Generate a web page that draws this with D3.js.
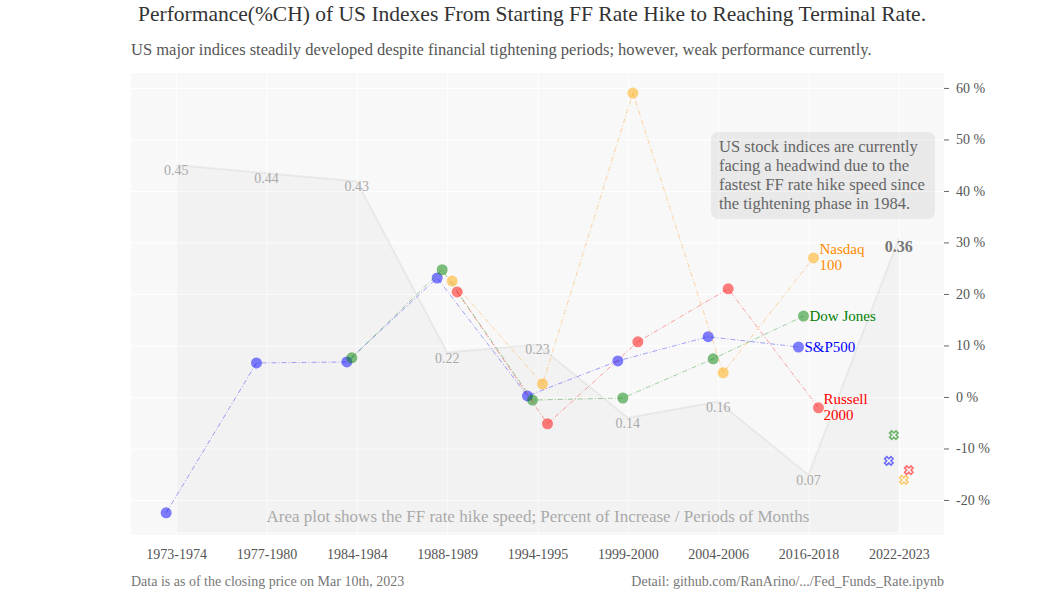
<!DOCTYPE html>
<html lang="en">
<head>
<meta charset="UTF-8">
<title>FF Rate Hike Performance</title>
<script src="https://cdn.jsdelivr.net/npm/d3@7"></script>
<style>
  body{margin:0;background:#fff;font-family:"Liberation Serif","DejaVu Serif",serif}
  .grid line{stroke:#fff;stroke-width:1}
  .grid path{display:none}
</style>
</head>
<body>
<svg width="1050" height="600"></svg>
<script>
var periods = ['1973-1974','1977-1980','1984-1984','1988-1989','1994-1995','1999-2000','2004-2006','2016-2018','2022-2023']
var hikeSpeed = [0.45, 0.44, 0.43, 0.22, 0.23, 0.14, 0.16, 0.07, 0.36]
var sp500   = [-22.5, 6.6, 6.8, 23.1, 0.2, 7.0, 11.7, 9.7, -12.4]
var dow     = [null, null, 7.6, 24.7, -0.6, -0.2, 7.4, 15.7, -7.4]
var nasdaq  = [null, null, null, 22.5, 2.5, 59.0, 4.7, 27.0, -16.1]
var russell = [null, null, null, 20.4, -5.2, 10.7, 21.0, -2.1, -14.2]
var yTicks = [-20, -10, 0, 10, 20, 30, 40, 50, 60]

var series = [
  {name: ['S&P500'], vals: sp500, color: 'blue', off: -10, lx: 6, ly: 0},
  {name: ['Dow Jones'], vals: dow, color: 'green', off: -5, lx: 6, ly: 0},
  {name: ['Nasdaq', '100'], vals: nasdaq, color: 'darkorange', fill: 'orange', off: 5, lx: 6, ly: -9},
  {name: ['Russell', '2000'], vals: russell, color: 'red', off: 10, lx: 5, ly: -9}
]

var svg = d3.select('svg')
var L = 131, R = 944, T = 73, B = 535

var x = d3.scalePoint().domain(periods).range([L, R]).padding(0.5)
var y = d3.scaleLinear().domain([-26.8, 62.9]).range([B, T])
var y2 = d3.scaleLinear().domain([0, 0.45]).range([532, 165])

svg.append('rect').attr('x', L).attr('y', T).attr('width', R - L).attr('height', B - T).attr('fill', '#f8f8f8')

// grid
svg.append('g').attr('class', 'grid')
  .attr('transform', `translate(${L},0)`)
  .call(d3.axisLeft(y).tickValues(yTicks).tickSize(-(R - L)).tickFormat(''))
svg.append('g').attr('class', 'grid')
  .attr('transform', `translate(0,${B})`)
  .call(d3.axisBottom(x).tickSize(-(B - T)).tickFormat(''))

// area of hike speed
var area = d3.area().x((d, i) => x(periods[i])).y0(y2(0)).y1(d => y2(d))
svg.append('path').datum(hikeSpeed).attr('d', area)
  .attr('fill', 'rgba(0,0,0,0.022)').attr('stroke', 'none')
svg.append('path').datum(hikeSpeed).attr('d', d3.line().x((d, i) => x(periods[i])).y(d => y2(d)))
  .attr('fill', 'none').attr('stroke', 'rgba(0,0,0,0.05)').attr('stroke-width', 2)
svg.selectAll('.hs').data(hikeSpeed).enter().append('text')
  .attr('x', (d, i) => x(periods[i]))
  .attr('y', (d, i) => i == 8 ? y2(d) + 14 : y2(d) + 10)
  .attr('text-anchor', 'middle')
  .attr('font-size', (d, i) => i == 8 ? 16 : 14)
  .attr('font-weight', (d, i) => i == 8 ? 'bold' : 'normal')
  .attr('fill', (d, i) => i == 8 ? '#777' : '#aaa')
  .text(d => d.toFixed(2))

// series
series.forEach(s => {
  var pts = s.vals.map((v, i) => ({i: i, v: v})).filter(p => p.v != null)
  var hist = pts.filter(p => p.i < 8), last = pts.filter(p => p.i == 8)
  var px = p => x(periods[p.i]) + s.off
  svg.append('path').datum(hist)
    .attr('d', d3.line().x(px).y(p => y(p.v)))
    .attr('fill', 'none').attr('stroke', s.color).attr('stroke-opacity', 0.45)
    .attr('stroke-width', 0.8).attr('stroke-dasharray', '5,2,1,2')
  svg.selectAll(null).data(hist).enter().append('circle')
    .attr('cx', px).attr('cy', p => y(p.v)).attr('r', 5.5)
    .attr('fill', s.fill || s.color).attr('opacity', 0.5)
  svg.selectAll(null).data(last).enter().append('path')
    .attr('transform', p => `translate(${px(p)},${y(p.v)}) rotate(45)`)
    .attr('d', d3.symbol(d3.symbolCross, 45))
    .attr('fill', 'none').attr('stroke', s.fill || s.color).attr('stroke-opacity', 0.55).attr('stroke-width', 1.6)
  var lp = hist[hist.length - 1]
  var t = svg.append('text').attr('x', px(lp) + s.lx).attr('y', y(lp.v) + s.ly + 5)
    .attr('fill', s.color).attr('font-size', 15)
  s.name.forEach((n, k) => t.append('tspan').attr('x', px(lp) + s.lx).attr('dy', k ? 16 : 0).text(n))
})

// right axis
var ya = svg.append('g').attr('transform', `translate(${R},0)`)
  .call(d3.axisRight(y).tickValues(yTicks).tickSize(5).tickFormat(d => d + ' %'))
ya.select('.domain').remove()
ya.selectAll('line').attr('stroke', '#666')
ya.selectAll('text').attr('font-family', 'Liberation Serif').attr('font-size', 14).attr('fill', '#555').attr('x', 12)

var xa = svg.append('g').attr('transform', `translate(0,${B})`)
  .call(d3.axisBottom(x).tickSize(0).tickPadding(14))
xa.select('.domain').remove()
xa.selectAll('text').attr('font-family', 'Liberation Serif').attr('font-size', 14).attr('fill', '#555')

// annotation box
svg.append('rect').attr('x', 711).attr('y', 132).attr('width', 224).attr('height', 87).attr('rx', 7)
  .attr('fill', 'rgba(0,0,0,0.06)')
var note = ['US stock indices are currently', 'facing a headwind due to the', 'fastest FF rate hike speed since', 'the tightening phase in 1984.']
svg.selectAll('.note').data(note).enter().append('text')
  .attr('x', 719).attr('y', (d, i) => 152 + i * 19)
  .attr('font-size', 16.5).attr('fill', '#666').text(d => d)

svg.append('text').attr('x', 538).attr('y', 522).attr('text-anchor', 'middle')
  .attr('font-size', 17).attr('fill', '#aaa')
  .text('Area plot shows the FF rate hike speed; Percent of Increase / Periods of Months')

// titles
svg.append('text').attr('x', 532).attr('y', 21).attr('text-anchor', 'middle')
  .attr('font-size', 21.5).attr('fill', '#333')
  .text('Performance(%CH) of US Indexes From Starting FF Rate Hike to Reaching Terminal Rate.')
svg.append('text').attr('x', 131).attr('y', 55)
  .attr('font-size', 16.5).attr('fill', '#555')
  .text('US major indices steadily developed despite financial tightening periods; however, weak performance currently.')
svg.append('text').attr('x', 131).attr('y', 586).attr('font-size', 14).attr('fill', '#777')
  .text('Data is as of the closing price on Mar 10th, 2023')
svg.append('text').attr('x', 944).attr('y', 586).attr('text-anchor', 'end').attr('font-size', 14).attr('fill', '#777')
  .text('Detail: github.com/RanArino/.../Fed_Funds_Rate.ipynb')
</script>
</body>
</html>
